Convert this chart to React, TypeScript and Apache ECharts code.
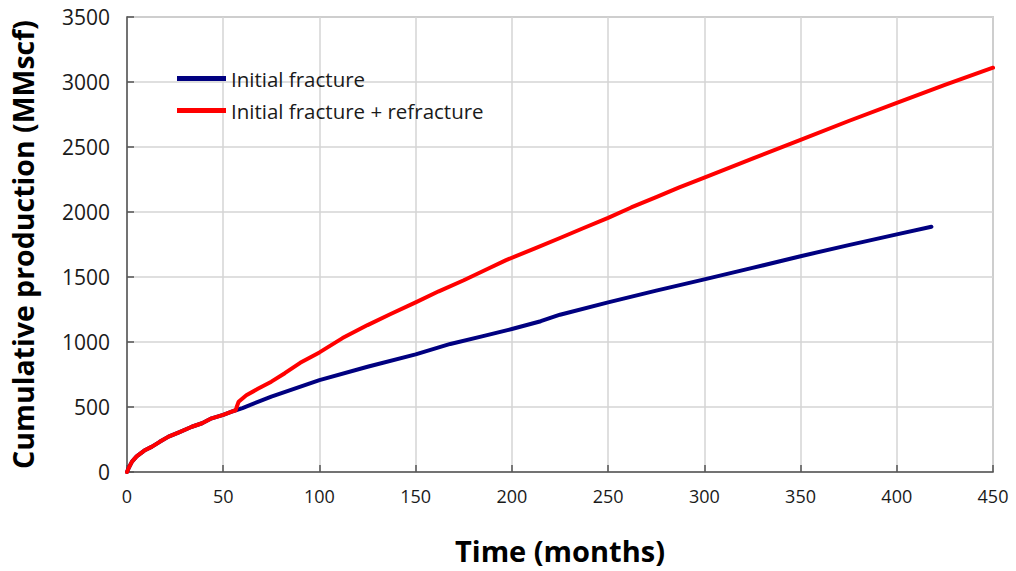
import React, { useEffect, useRef } from "react";
import * as echarts from "echarts";

const seriesNames = ["Initial fracture", "Initial fracture + refracture"];

// shared early segment (time in months, cumulative MMscf)
const earlyTime = [0, 1, 2.6, 5, 9, 13, 17, 21.6, 27, 33.7, 39, 44, 50, 54.4, 56.5];
const earlyProd = [0, 35, 80, 120, 165, 195, 232, 272, 305, 348, 375, 413, 440, 464, 475];

// initial fracture only
const baseTime = [60, 75, 100, 125, 150, 168, 185, 200, 215, 225, 250, 275, 300, 325, 350, 375, 400, 418];
const baseProd = [492, 580, 707, 810, 905, 985, 1045, 1100, 1160, 1210, 1305, 1395, 1482, 1570, 1660, 1745, 1828, 1887];

// initial fracture + refracture
const refracTime = [57, 58, 62, 68, 75, 82, 90, 100, 112, 125, 137, 150, 162, 175, 187, 197, 212, 225, 237, 250, 262, 275, 287, 300, 325, 350, 375, 400, 425, 450];
const refracProd = [500, 540, 590, 640, 695, 760, 840, 920, 1030, 1130, 1215, 1305, 1390, 1475, 1560, 1630, 1720, 1800, 1875, 1955, 2035, 2115, 2190, 2265, 2410, 2555, 2700, 2840, 2978, 3110];

const xTicks = { min: 0, max: 450, interval: 50 };
const yTicks = { min: 0, max: 3500, interval: 500 };

const FONT = "'Open Sans', 'Noto Sans', sans-serif";

export default function App() {
  const ref = useRef<HTMLDivElement>(null);
  useEffect(() => {
    if (!ref.current) return;
    const chart = echarts.init(ref.current, null, { renderer: "svg" });
    const early = earlyTime.map((t, i) => [t, earlyProd[i]]);
    const base = early.concat(baseTime.map((t, i) => [t, baseProd[i]]));
    const refrac = early.concat(refracTime.map((t, i) => [t, refracProd[i]]));
    chart.setOption({
      animation: false,
      backgroundColor: "#ffffff",
      grid: {
        left: 125,
        right: 23,
        top: 17,
        bottom: 99,
        show: true,
        borderColor: "#a6a6a6",
        borderWidth: 1.5,
        containLabel: false,
      },
      legend: {
        orient: "vertical",
        left: 177,
        top: 68,
        padding: 0,
        itemWidth: 49,
        itemHeight: 5,
        itemGap: 11,
        icon: "rect",
        textStyle: { fontFamily: FONT, fontSize: 20.5, color: "#1a1a1a" },
        data: seriesNames,
      },
      xAxis: {
        type: "value",
        ...xTicks,
        name: "Time (months)",
        nameLocation: "middle",
        nameGap: 64,
        nameTextStyle: { fontFamily: FONT, fontSize: 29, fontWeight: "bold", color: "#000" },
        axisLine: { show: true, lineStyle: { color: "#555", width: 1.5 } },
        axisTick: { show: true, inside: true, length: 7, lineStyle: { color: "#555", width: 1.5 } },
        axisLabel: { fontFamily: FONT, fontSize: 18, color: "#1a1a1a", margin: 15, formatter: (v: number) => String(v) },
        splitLine: { show: true, lineStyle: { color: "#d4d4d4", width: 1.5 } },
      },
      yAxis: {
        type: "value",
        ...yTicks,
        name: "Cumulative production (MMscf)",
        nameLocation: "middle",
        nameGap: 90,
        nameTextStyle: { fontFamily: FONT, fontSize: 28.5, fontWeight: "bold", color: "#000" },
        axisLine: { show: true, lineStyle: { color: "#555", width: 1.5 } },
        axisTick: { show: true, inside: true, length: 7, lineStyle: { color: "#555", width: 1.5 } },
        axisLabel: { fontFamily: FONT, fontSize: 21, color: "#1a1a1a", margin: 17, formatter: (v: number) => String(v) },
        splitLine: { show: true, lineStyle: { color: "#d4d4d4", width: 1.5 } },
      },
      series: [
        {
          name: seriesNames[0],
          type: "line",
          data: base,
          showSymbol: false,
          smooth: false,
          itemStyle: { color: "#000080" },
          lineStyle: { color: "#000080", width: 4, join: "round", cap: "round" },
          z: 2,
        },
        {
          name: seriesNames[1],
          type: "line",
          data: refrac,
          showSymbol: false,
          smooth: false,
          itemStyle: { color: "#ff0000" },
          lineStyle: { color: "#ff0000", width: 4, join: "round", cap: "round" },
          z: 3,
        },
      ],
    });
    return () => chart.dispose();
  }, []);
  return <div ref={ref} style={{ width: 1016, height: 571, position: "absolute", left: 0, top: 0 }} />;
}
